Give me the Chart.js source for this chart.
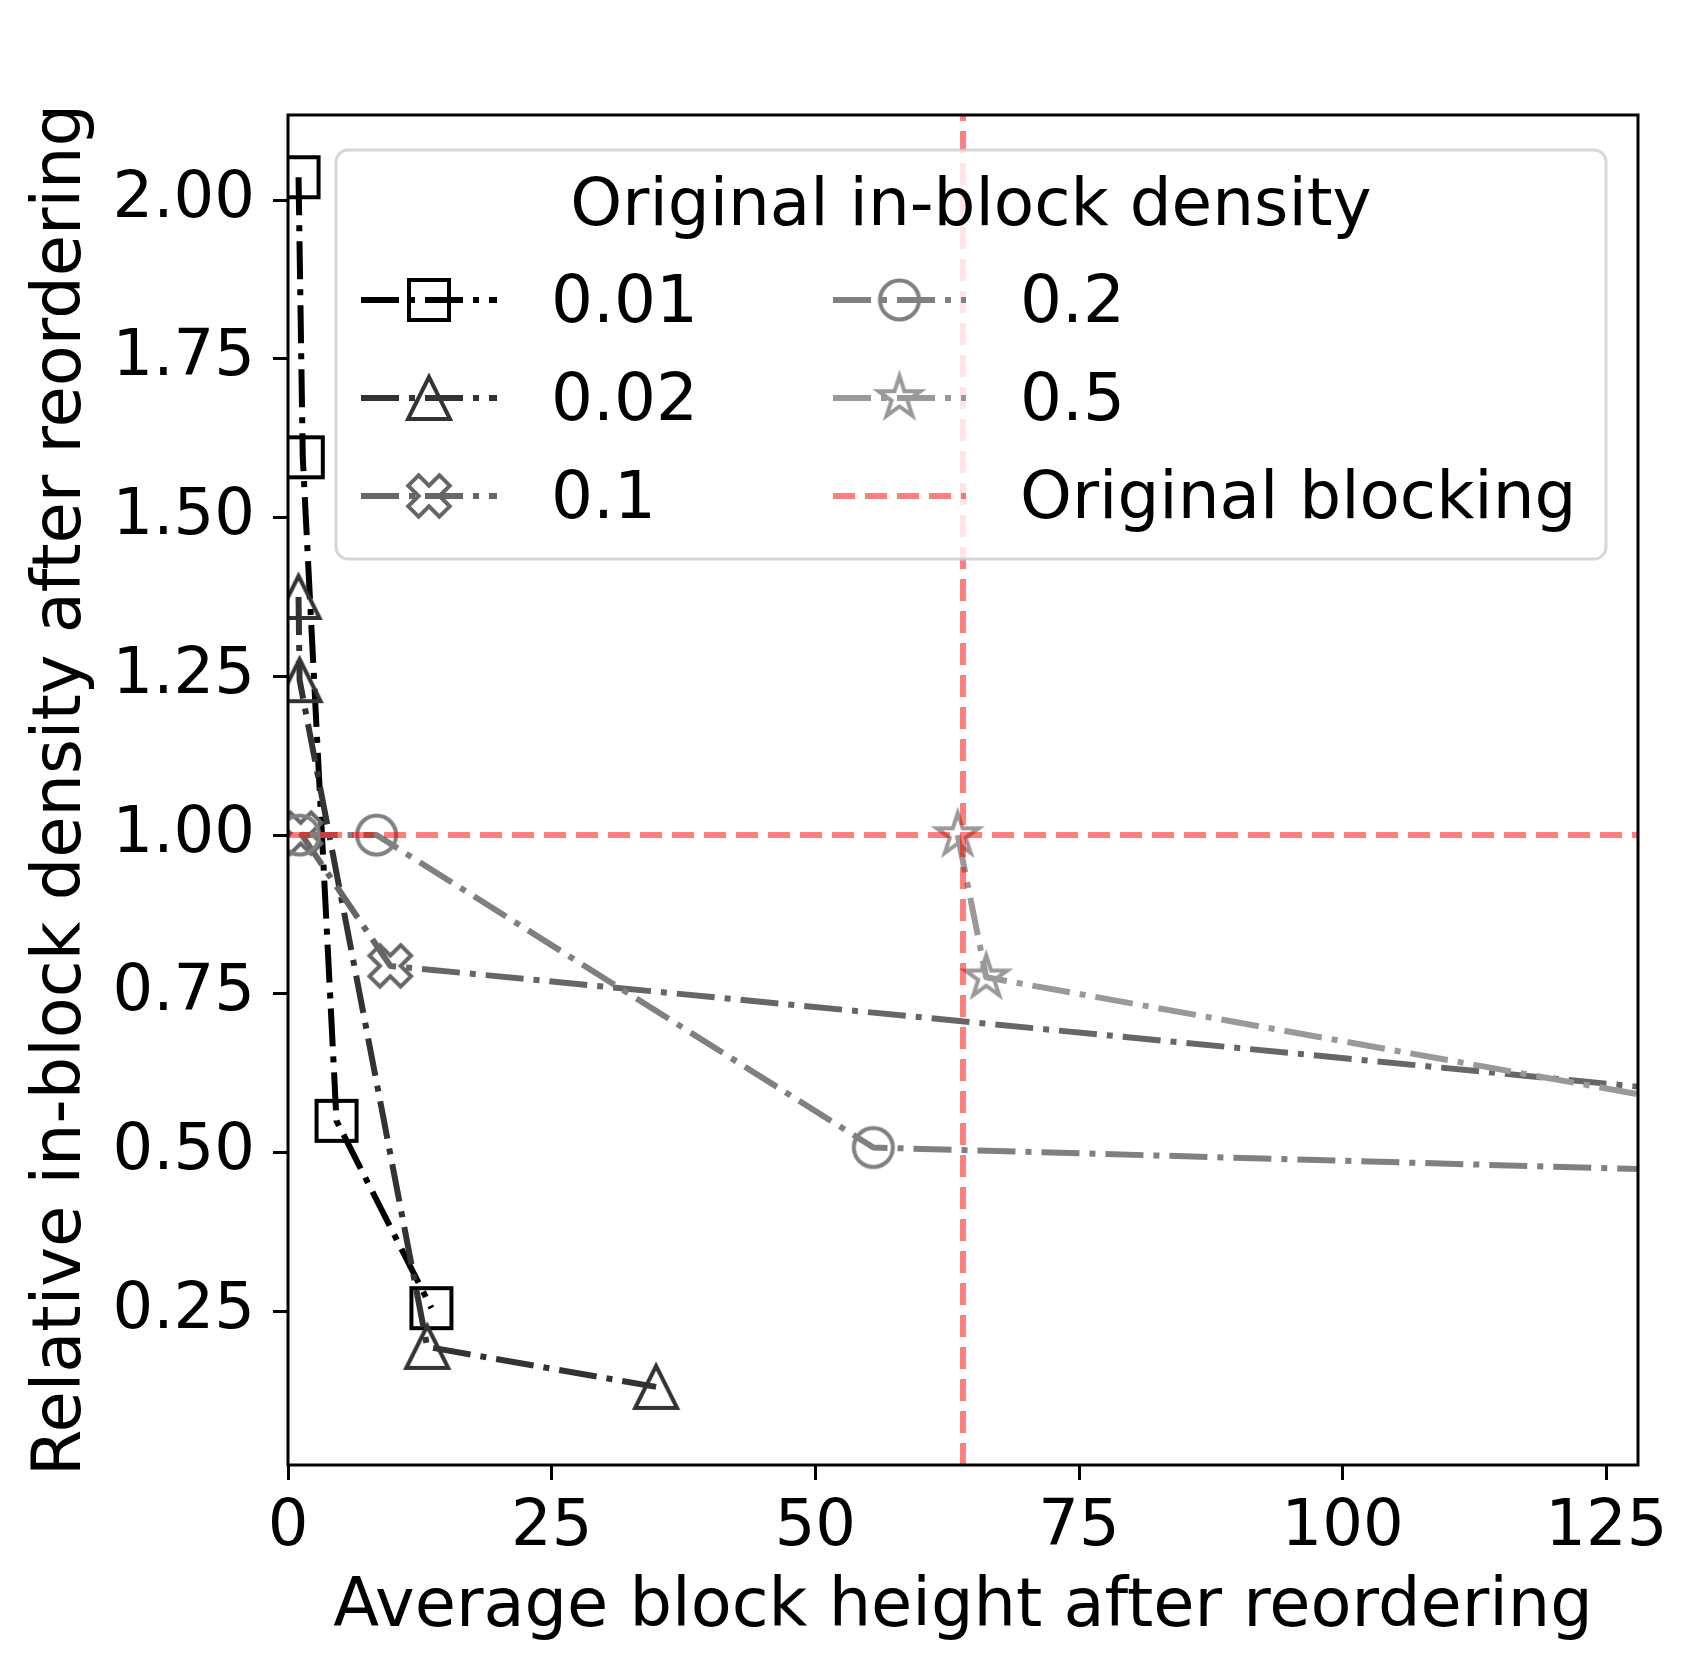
<!DOCTYPE html>
<html lang="en">
  <head>
    <meta charset="UTF-8" />
    <title>Block density after reordering</title>
    <style>
      body { margin: 0; background: #fff; }
    </style>
  </head>
  <body>
    <canvas id="myChart" width="1700" height="1669"></canvas>
    <script src="https://cdn.jsdelivr.net/npm/chart.js@4.4.1/dist/chart.umd.min.js"></script>
    <script>
      // values (x = avg block height, y = relative density)
      const densityLabels = ["0.01", "0.02", "0.1", "0.2", "0.5"];
      const height_001 = [1.0, 1.4, 4.6, 13.6];
      const rel_001 = [2.036, 1.595, 0.55, 0.255];
      const height_002 = [1.0, 1.1, 13.2, 34.9];
      const rel_002 = [1.375, 1.244, 0.194, 0.131];
      const height_01 = [1.2, 9.7, 256];
      const rel_01 = [1.003, 0.794, 0.398];
      const height_02 = [1.1, 8.4, 55.5, 256];
      const rel_02 = [1.0, 1.0, 0.508, 0.414];
      const height_05 = [63.5, 66.2, 256];
      const rel_05 = [1.0, 0.776, 0.211];
      const originalHeight = 64;
      const originalDensity = 1.0;
      const xTicks = [0, 25, 50, 75, 100, 125];
      const yTicks = [0.25, 0.5, 0.75, 1.0, 1.25, 1.5, 1.75, 2.0];

      const X_MIN = 0, X_MAX = 128, Y_MIN = 0.008, Y_MAX = 2.134;
      const FONT = "DejaVu Sans";
      const DASHDOT = [38, 10, 6, 10];
      const RED = "rgba(255, 0, 0, 0.5)";

      function pts(xs, ys) {
        return xs.map((x, i) => ({ x: x, y: ys[i] }));
      }

      // hollow markers drawn like matplotlib's
      function makeMarker(shape, color) {
        const c = document.createElement("canvas");
        c.width = 64;
        c.height = 64;
        const g = c.getContext("2d");
        g.translate(32, 32);
        g.strokeStyle = color;
        g.lineWidth = 4;
        g.lineJoin = "miter";
        g.beginPath();
        if (shape === "square") {
          g.rect(-20, -20, 40, 40);
        } else if (shape === "circle") {
          g.arc(0, 0, 19.5, 0, Math.PI * 2);
        } else if (shape === "triangle") {
          g.moveTo(0, -21);
          g.lineTo(-21, 21);
          g.lineTo(21, 21);
          g.closePath();
        } else if (shape === "x") {
          const p = [[-1, -3], [1, -3], [1, -1], [3, -1], [3, 1], [1, 1],
                     [1, 3], [-1, 3], [-1, 1], [-3, 1], [-3, -1], [-1, -1]];
          const s = 44 / 6, a = Math.PI / 4;
          p.forEach(([px, py], i) => {
            const x = (px * Math.cos(a) - py * Math.sin(a)) * s;
            const y = (px * Math.sin(a) + py * Math.cos(a)) * s;
            if (i === 0) g.moveTo(x, y); else g.lineTo(x, y);
          });
          g.closePath();
        } else if (shape === "star") {
          for (let i = 0; i < 10; i++) {
            const r = i % 2 === 0 ? 22 : 22 * 0.381966;
            const t = -Math.PI / 2 + i * Math.PI / 5;
            const x = r * Math.cos(t), y = r * Math.sin(t);
            if (i === 0) g.moveTo(x, y); else g.lineTo(x, y);
          }
          g.closePath();
        }
        g.stroke();
        return c;
      }

      function seriesDataset(label, data, color, shape, order) {
        return {
          label: label,
          data: data,
          showLine: true,
          borderColor: color,
          backgroundColor: color,
          borderWidth: 6,
          borderDash: DASHDOT,
          borderCapStyle: "butt",
          borderJoinStyle: "round",
          pointStyle: makeMarker(shape, color),
          pointRadius: 22,
          pointHoverRadius: 22,
          tension: 0,
          clip: 0,
          order: order,
        };
      }

      const datasets = [
        seriesDataset(densityLabels[0], pts(height_001, rel_001), "#000000", "square", 10),
        seriesDataset(densityLabels[1], pts(height_002, rel_002), "#333333", "triangle", 9),
        seriesDataset(densityLabels[2], pts(height_01, rel_01), "#666666", "x", 8),
        seriesDataset(densityLabels[3], pts(height_02, rel_02), "#808080", "circle", 7),
        seriesDataset(densityLabels[4], pts(height_05, rel_05), "#999999", "star", 6),
        {
          label: "Original blocking",
          data: [
            { x: X_MIN, y: originalDensity },
            { x: X_MAX, y: originalDensity },
            { x: originalHeight, y: null },
            { x: originalHeight, y: Y_MIN },
            { x: originalHeight, y: Y_MAX },
          ],
          showLine: true,
          spanGaps: false,
          borderColor: RED,
          borderWidth: 6,
          borderDash: [22, 10],
          borderCapStyle: "butt",
          pointRadius: 0,
          clip: 0,
          order: 0,
        },
      ];

      // legend spots: [handle start, handle end, label x, row y]
      const legendSlots = [
        [361, 497, 551, 300],
        [361, 497, 551, 398],
        [361, 497, 551, 496],
        [833, 966, 1020, 300],
        [833, 966, 1020, 398],
        [833, 966, 1020, 496],
      ];

      const frameAndLegend = {
        id: "frameAndLegend",
        afterDatasetsDraw(chart) {
          const ctx = chart.ctx;
          const a = chart.chartArea;
          ctx.save();
          ctx.strokeStyle = "#000";
          ctx.lineWidth = 3;
          ctx.strokeRect(a.left, a.top, a.right - a.left, a.bottom - a.top);

          // legend box
          const bx = 336, by = 150, bw = 1270, bh = 409;
          ctx.beginPath();
          ctx.roundRect(bx, by, bw, bh, 12);
          ctx.fillStyle = "rgba(255, 255, 255, 0.8)";
          ctx.fill();
          ctx.strokeStyle = "rgba(204, 204, 204, 0.8)";
          ctx.lineWidth = 3;
          ctx.stroke();

          ctx.fillStyle = "#000";
          ctx.font = "66px '" + FONT + "'";
          ctx.textBaseline = "middle";
          ctx.textAlign = "center";
          ctx.fillText("Original in-block density", bx + bw / 2, 208);

          ctx.textAlign = "left";
          chart.data.datasets.forEach((ds, i) => {
            const [x0, x1, lx, y] = legendSlots[i];
            ctx.save();
            ctx.beginPath();
            ctx.setLineDash(ds.borderDash);
            ctx.lineCap = "butt";
            ctx.strokeStyle = ds.borderColor;
            ctx.lineWidth = ds.borderWidth;
            ctx.moveTo(x0, y);
            ctx.lineTo(x1, y);
            ctx.stroke();
            ctx.restore();
            if (ds.pointRadius > 0) {
              const m = ds.pointStyle;
              ctx.drawImage(m, (x0 + x1) / 2 - m.width / 2, y - m.height / 2);
            }
            ctx.fillStyle = "#000";
            ctx.fillText(ds.label, lx, y + 5);
          });
          ctx.restore();
        },
      };

      const tickFont = { family: FONT, size: 64 };
      const titleFont = { family: FONT, size: 67 };

      const ctx = document.getElementById("myChart");
      const myChart = new Chart(ctx, {
        type: "scatter",
        data: { datasets: datasets },
        plugins: [frameAndLegend],
        options: {
          responsive: false,
          animation: false,
          devicePixelRatio: 1,
          layout: { padding: { top: 115, right: 62, left: 0, bottom: 0 } },
          plugins: {
            legend: { display: false },
            tooltip: { enabled: false },
          },
          scales: {
            x: {
              type: "linear",
              min: X_MIN,
              max: X_MAX,
              afterFit: (s) => { s.height = 204; },
              afterBuildTicks: (s) => { s.ticks = xTicks.map((v) => ({ value: v })); },
              grid: {
                drawOnChartArea: false,
                drawTicks: true,
                tickLength: 15,
                tickWidth: 3,
                tickColor: "#000",
              },
              border: { display: false },
              ticks: {
                color: "#000",
                font: tickFont,
                padding: 10,
                maxRotation: 0,
                callback: (v) => String(v),
              },
              title: {
                display: true,
                text: "Average block height after reordering",
                color: "#000",
                font: titleFont,
                padding: { top: 0, bottom: 20 },
              },
            },
            y: {
              type: "linear",
              min: Y_MIN,
              max: Y_MAX,
              afterFit: (s) => { s.width = 288; },
              afterBuildTicks: (s) => { s.ticks = yTicks.map((v) => ({ value: v })); },
              grid: {
                drawOnChartArea: false,
                drawTicks: true,
                tickLength: 15,
                tickWidth: 3,
                tickColor: "#000",
              },
              border: { display: false },
              ticks: {
                color: "#000",
                font: tickFont,
                padding: 18,
                callback: (v) => v.toFixed(2),
              },
              title: {
                display: true,
                text: "Relative in-block density after reordering",
                color: "#000",
                font: titleFont,
                padding: { top: 22, bottom: 0 },
              },
            },
          },
        },
      });
    </script>
  </body>
</html>
